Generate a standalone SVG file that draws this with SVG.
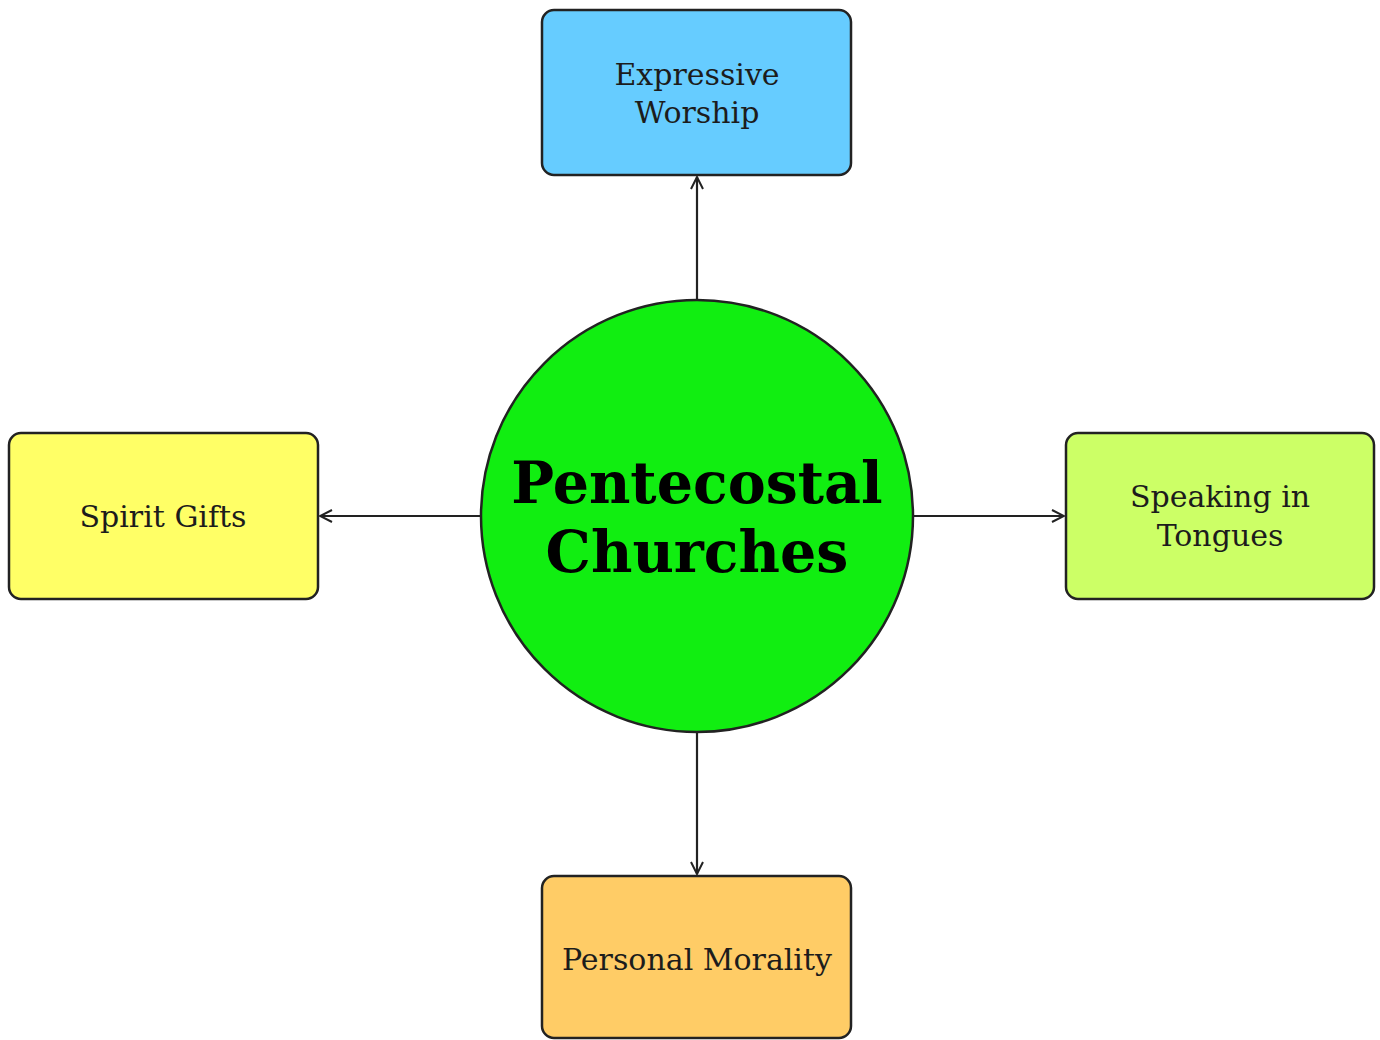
<svg xmlns="http://www.w3.org/2000/svg" width="1380" height="1040" viewBox="0 0 1380 1040">
<style>
.box{stroke:#222;stroke-width:2.5}
.lbl{font-family:"DejaVu Serif","Liberation Serif",serif;font-size:30px;text-anchor:middle;fill:#1c1c1c}
.title{font-family:"DejaVu Serif","Liberation Serif",serif;font-size:57px;font-weight:bold;text-anchor:middle;fill:#000}
.conn{stroke:#222;stroke-width:2.2;fill:none}
</style>
<defs>
<marker id="arr" viewBox="0 0 14 14" refX="13" refY="7" markerWidth="14" markerHeight="14" markerUnits="userSpaceOnUse" orient="auto">
<path d="M1,1 L13,7 L1,13" fill="none" stroke="#222" stroke-width="2"/>
</marker>
</defs>
<rect width="1380" height="1040" fill="#fff"/>
<g id="connectors">
<line class="conn" x1="697" y1="300" x2="697" y2="177" marker-end="url(#arr)"/>
<line class="conn" x1="481" y1="516" x2="320" y2="516" marker-end="url(#arr)"/>
<line class="conn" x1="913" y1="516" x2="1064" y2="516" marker-end="url(#arr)"/>
<line class="conn" x1="697" y1="732" x2="697" y2="874" marker-end="url(#arr)"/>
</g>
<g id="center">
<circle cx="697" cy="516" r="216" fill="#11ee11" stroke="#222" stroke-width="2.5"/>
<text class="title" x="697" y="503">Pentecostal</text>
<text class="title" x="697" y="572">Churches</text>
</g>
<g id="expressive-worship">
<rect class="box" x="542" y="10" width="309" height="165" rx="12" fill="#66ccff"/>
<text class="lbl" x="697" y="85">Expressive</text>
<text class="lbl" x="697" y="123">Worship</text>
</g>
<g id="spirit-gifts">
<rect class="box" x="9" y="433" width="309" height="166" rx="12" fill="#ffff66"/>
<text class="lbl" x="163" y="527">Spirit Gifts</text>
</g>
<g id="speaking-in-tongues">
<rect class="box" x="1066" y="433" width="308" height="166" rx="12" fill="#ccff66"/>
<text class="lbl" x="1220" y="507">Speaking in</text>
<text class="lbl" x="1220" y="546">Tongues</text>
</g>
<g id="personal-morality">
<rect class="box" x="542" y="876" width="309" height="162" rx="12" fill="#ffcc66"/>
<text class="lbl" x="697" y="970">Personal Morality</text>
</g>
</svg>
